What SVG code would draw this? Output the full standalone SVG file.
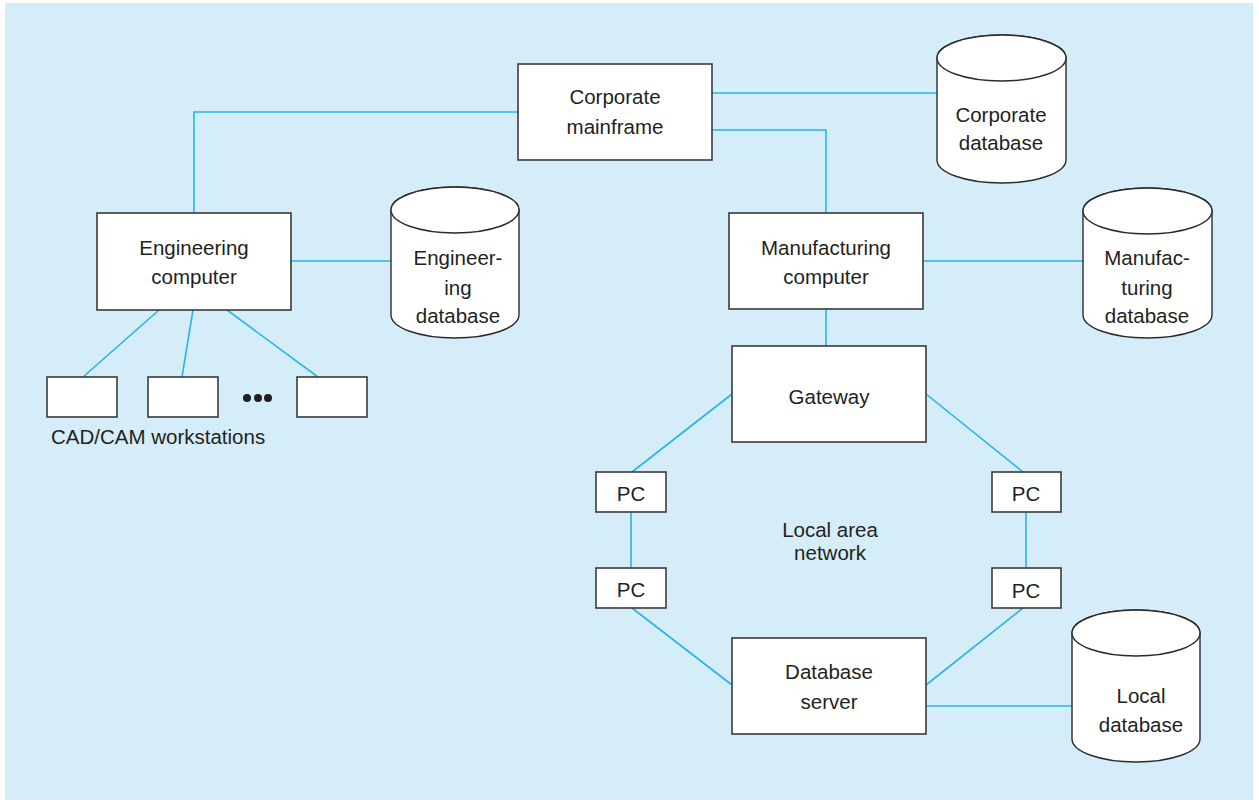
<svg xmlns="http://www.w3.org/2000/svg" width="1259" height="802" viewBox="0 0 1259 802">
  <style>
    .box { fill: #ffffff; stroke: #3a3a3a; stroke-width: 1.6; }
    .cyl { fill: #ffffff; stroke: #2b2b2b; stroke-width: 1.4; }
    .wire { fill: none; stroke: #27b4e9; stroke-width: 1.6; }
    text { font-family: "Liberation Sans", Arial, sans-serif; font-size: 20.5px; fill: #231f20; text-anchor: middle; }
    .lab { text-anchor: start; }
  </style>

  <!-- backdrop -->
  <rect x="5" y="3" width="1248" height="797" fill="#d5ecf9"/>

  <!-- connectors -->
  <g id="connectors" class="wire">
    <polyline points="518,112 194,112 194,213"/>
    <line x1="712" y1="93" x2="937" y2="93"/>
    <polyline points="712,130 826,130 826,213"/>
    <line x1="291" y1="261" x2="391" y2="261"/>
    <line x1="923" y1="261" x2="1083" y2="261"/>
    <line x1="826" y1="309" x2="826" y2="346"/>
    <line x1="159" y1="310" x2="83" y2="377"/>
    <line x1="193" y1="310" x2="182" y2="377"/>
    <line x1="227" y1="310" x2="318" y2="377"/>
    <line x1="732" y1="394" x2="632" y2="472"/>
    <line x1="926" y1="394" x2="1023" y2="472"/>
    <line x1="631" y1="512" x2="631" y2="568"/>
    <line x1="1026" y1="512" x2="1026" y2="568"/>
    <line x1="632" y1="608" x2="732" y2="685"/>
    <line x1="1023" y1="608" x2="926" y2="685"/>
    <line x1="926" y1="706" x2="1072" y2="706"/>
  </g>

  <!-- computers -->
  <g id="corporate-mainframe">
    <rect class="box" x="518" y="64" width="194" height="96"/>
    <text x="615" y="104">Corporate</text>
    <text x="615" y="134">mainframe</text>
  </g>
  <g id="engineering-computer">
    <rect class="box" x="97" y="213" width="194" height="97"/>
    <text x="194" y="255">Engineering</text>
    <text x="194" y="284">computer</text>
  </g>
  <g id="manufacturing-computer">
    <rect class="box" x="729" y="213" width="194" height="96"/>
    <text x="826" y="255">Manufacturing</text>
    <text x="826" y="284">computer</text>
  </g>
  <g id="gateway">
    <rect class="box" x="732" y="346" width="194" height="96"/>
    <text x="829" y="404">Gateway</text>
  </g>
  <g id="database-server">
    <rect class="box" x="732" y="638" width="194" height="96"/>
    <text x="829" y="679">Database</text>
    <text x="829" y="709">server</text>
  </g>

  <!-- LAN PCs -->
  <g id="pc-left-top">
    <rect class="box" x="596" y="472" width="70" height="40"/>
    <text x="631" y="501">PC</text>
  </g>
  <g id="pc-left-bottom">
    <rect class="box" x="596" y="568" width="70" height="40"/>
    <text x="631" y="597">PC</text>
  </g>
  <g id="pc-right-top">
    <rect class="box" x="992" y="472" width="69" height="40"/>
    <text x="1026" y="501">PC</text>
  </g>
  <g id="pc-right-bottom">
    <rect class="box" x="992" y="568" width="69" height="40"/>
    <text x="1026" y="598">PC</text>
  </g>
  <g id="lan-label">
    <text x="830" y="537">Local area</text>
    <text x="830" y="560">network</text>
  </g>

  <!-- CAD/CAM workstations -->
  <g id="workstations">
    <rect class="box" x="47" y="377" width="70" height="40"/>
    <rect class="box" x="148" y="377" width="70" height="40"/>
    <rect class="box" x="297" y="377" width="70" height="40"/>
    <circle cx="247" cy="398" r="4" fill="#231f20"/>
    <circle cx="258" cy="398" r="4" fill="#231f20"/>
    <circle cx="268" cy="398" r="4" fill="#231f20"/>
    <text class="lab" x="51" y="444">CAD/CAM workstations</text>
  </g>

  <!-- databases -->
  <g id="corporate-database">
    <path class="cyl" d="M937,58 V160 A64.5,23 0 0 0 1066,160 V58 A64.5,23 0 0 0 937,58 Z"/>
    <ellipse class="cyl" cx="1001.5" cy="58" rx="64.5" ry="23"/>
    <text x="1001" y="122">Corporate</text>
    <text x="1001" y="150">database</text>
  </g>
  <g id="engineering-database">
    <path class="cyl" d="M391,210 V315 A64,23 0 0 0 519,315 V210 A64,23 0 0 0 391,210 Z"/>
    <ellipse class="cyl" cx="455" cy="210" rx="64" ry="23"/>
    <text x="458" y="265">Engineer-</text>
    <text x="458" y="295">ing</text>
    <text x="458" y="323">database</text>
  </g>
  <g id="manufacturing-database">
    <path class="cyl" d="M1083,211 V315 A64.5,23 0 0 0 1212,315 V211 A64.5,23 0 0 0 1083,211 Z"/>
    <ellipse class="cyl" cx="1147.5" cy="211" rx="64.5" ry="23"/>
    <text x="1147" y="265">Manufac-</text>
    <text x="1147" y="295">turing</text>
    <text x="1147" y="323">database</text>
  </g>
  <g id="local-database">
    <path class="cyl" d="M1072,633 V739 A64,23 0 0 0 1200,739 V633 A64,23 0 0 0 1072,633 Z"/>
    <ellipse class="cyl" cx="1136" cy="633" rx="64" ry="23"/>
    <text x="1141" y="703">Local</text>
    <text x="1141" y="732">database</text>
  </g>
</svg>
